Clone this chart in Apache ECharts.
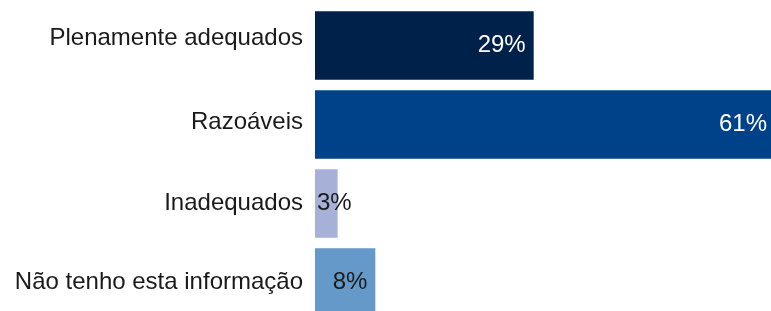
<!DOCTYPE html>
<html>
<head>
<meta charset="utf-8">
<script src="https://cdn.jsdelivr.net/npm/echarts@6/dist/echarts.min.js"></script>
<style>
  html, body { margin: 0; padding: 0; background: #fff; }
  #chart { width: 771px; height: 311px; }
</style>
</head>
<body>
<div id="chart"></div>
<script>
  // dados
  var categories = ['Plenamente adequados', 'Razoáveis', 'Inadequados', 'Não tenho esta informação']
  var values = [29, 61, 3, 8]
  var barColors = ['#00214a', '#004289', '#a7b0d7', '#6499c9']
  var labelColors = ['#ffffff', '#ffffff', '#1a1a1a', '#1a1a1a']

  var chart = echarts.init(document.getElementById('chart'))
  var fontFamily = '"Liberation Sans", Arial, sans-serif'

  // pequeno ajuste vertical de cada rótulo de categoria (como no original)
  var labelLift = [14, 4, 0, 0]
  var rich = {}
  labelLift.forEach(function(p, i) {
    rich['l' + i] = {
      color: '#1a1a1a',
      fontSize: 24,
      fontFamily: fontFamily,
      padding: [0, 0, p, 0]
    }
  })

  chart.setOption({
    animation: false,
    grid: {
      top: 6,
      bottom: -11,
      left: 315,
      right: -4,
      outerBoundsMode: 'none',
      containLabel: false
    },
    xAxis: {
      type: 'value',
      min: 0,
      max: 61,
      show: false
    },
    yAxis: {
      type: 'category',
      inverse: true,
      data: categories,
      axisLine: { show: false },
      axisTick: { show: false },
      axisLabel: {
        margin: 12,
        color: '#1a1a1a',
        fontSize: 24,
        fontFamily: fontFamily,
        formatter: function(v, i) {
          return '{l' + i + '|' + v + '}'
        },
        rich: rich
      }
    },
    series: [{
      type: 'bar',
      barCategoryGap: '13%',
      data: values.map(function(v, i) {
        return {
          value: v,
          itemStyle: { color: barColors[i] },
          label: {
            show: true,
            position: v < 5 ? 'insideLeft' : 'insideRight',
            distance: v < 5 ? 2 : 8,
            color: labelColors[i],
            fontSize: 24,
            fontFamily: fontFamily,
            formatter: '{c}%'
          }
        }
      })
    }]
  })
</script>
</body>
</html>
